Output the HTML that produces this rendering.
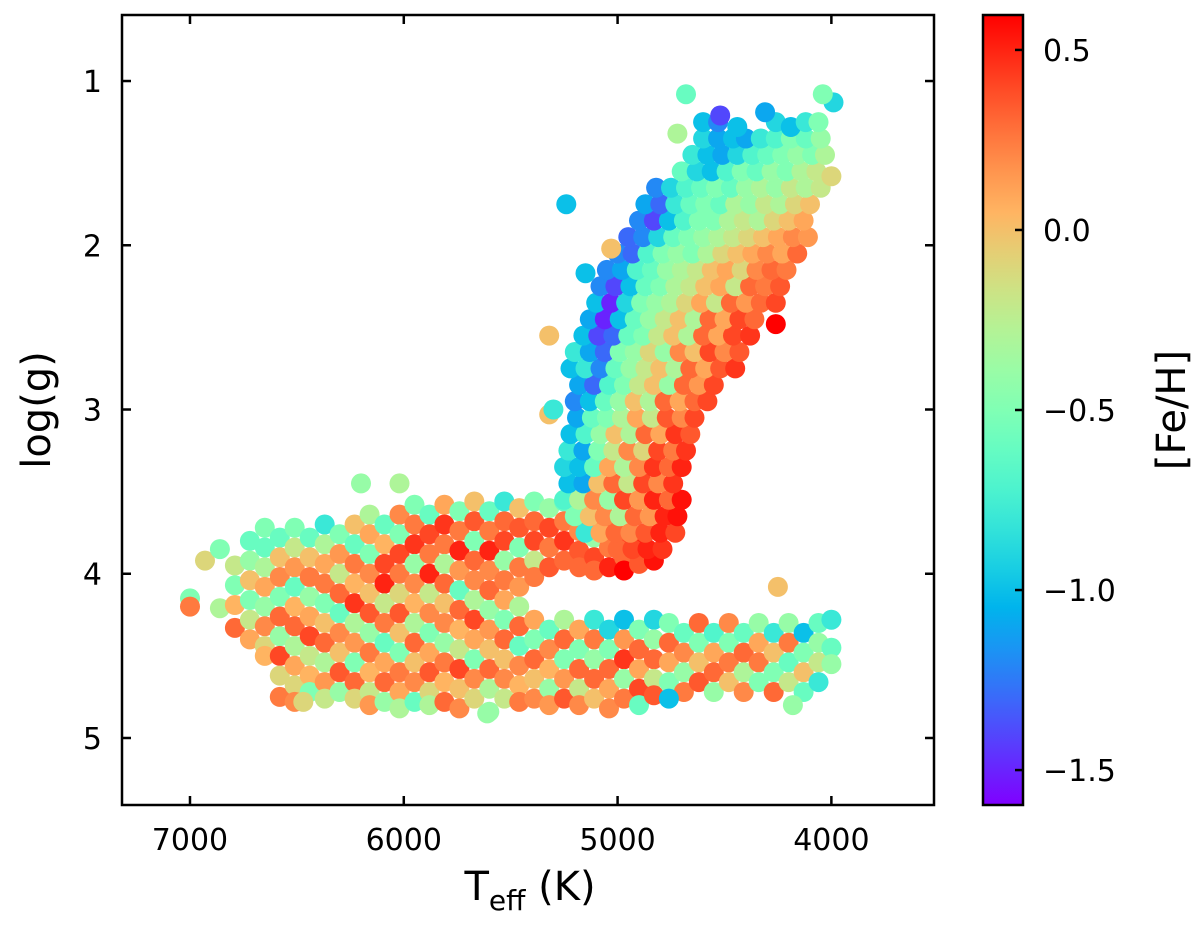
<!DOCTYPE html>
<html><head><meta charset="utf-8">
<style>
html,body{margin:0;padding:0;background:#fff;}
svg{display:block;font-family:"DejaVu Sans","Liberation Sans",sans-serif;}
</style></head>
<body>
<svg id="chart" width="1200" height="930" viewBox="0 0 1200 930" xmlns="http://www.w3.org/2000/svg">
<defs><linearGradient id="cbgrad" x1="0" y1="1" x2="0" y2="0"></linearGradient>
<clipPath id="plotclip"><rect x="122" y="15" width="812" height="790"/></clipPath></defs>
<g id="points" clip-path="url(#plotclip)"></g>
<g id="axes"></g>
</svg>
<script>
const xTicks = [7000, 6000, 5000, 4000];
const yTicks = [1, 2, 3, 4, 5];
const cbTicks = [0.5, 0.0, -0.5, -1.0, -1.5];
const cbTickLabels = ["0.5", "0.0", "\u22120.5", "\u22121.0", "\u22121.5"];
// dwarf / subgiant rows: [Teff, [logg...], [Fe/H...]]
const msRows = [
[7000,[4.15,4.2],[-0.5,0.25]],
[6930,[3.92],[-0.1]],
[6860,[3.85,4.21],[-0.5,-0.3]],
[6790,[3.95,4.07,4.19,4.33],[-0.2,-0.5,0.05,0.3]],
[6720,[3.8,3.92,4.04,4.16,4.28,4.4],[-0.6,-0.4,0.0,-0.5,-0.2,0.1]],
[6650,[3.72,3.84,3.96,4.08,4.2,4.32,4.44,4.5],[-0.5,-0.6,-0.3,0.1,-0.4,0.2,-0.1,0.05]],
[6580,[3.78,3.9,4.02,4.14,4.26,4.38,4.5,4.62,4.75],[-0.6,0.0,0.2,-0.5,0.3,-0.4,0.4,-0.1,0.25]],
[6510,[3.72,3.84,3.96,4.08,4.2,4.32,4.44,4.56,4.68,4.78],[-0.5,-0.2,0.15,-0.6,0.05,0.3,-0.3,0.1,-0.1,0.2]],
[6440,[3.78,3.9,4.02,4.14,4.26,4.38,4.5,4.62,4.72],[-0.6,0.0,0.25,-0.4,0.1,0.4,-0.2,0.05,-0.5]],
[6370,[3.7,3.82,3.94,4.06,4.18,4.3,4.42,4.54,4.66,4.76],[-0.8,-0.3,0.1,0.25,-0.5,0.0,0.3,-0.3,0.15,-0.2]],
[6300,[3.76,3.88,4.0,4.12,4.24,4.36,4.48,4.6,4.72],[-0.5,0.15,-0.2,0.3,-0.6,0.2,0.0,0.35,-0.4]],
[6230,[3.7,3.82,3.94,4.06,4.18,4.3,4.42,4.54,4.66,4.76],[0.0,-0.6,0.25,0.05,0.45,-0.3,0.15,-0.5,0.3,-0.1]],
[6160,[3.64,3.76,3.88,4.0,4.12,4.24,4.36,4.48,4.6,4.72,4.8],[-0.3,0.1,-0.5,0.2,0.0,0.35,-0.4,0.25,0.05,-0.2,0.15]],
[6090,[3.7,3.82,3.94,4.06,4.18,4.3,4.42,4.54,4.66,4.78],[-0.6,0.05,0.4,0.5,-0.2,0.25,-0.6,0.1,0.3,-0.4]],
[6020,[3.64,3.76,3.88,4.0,4.12,4.24,4.36,4.48,4.6,4.72,4.82],[0.2,-0.5,0.4,0.25,-0.1,0.35,0.0,-0.5,0.25,0.1,-0.3]],
[5950,[3.58,3.7,3.82,3.94,4.06,4.18,4.3,4.42,4.54,4.66,4.78],[-0.5,0.25,0.45,-0.4,0.2,0.05,-0.3,0.3,0.0,0.2,-0.6]],
[5880,[3.64,3.76,3.88,4.0,4.12,4.24,4.36,4.48,4.6,4.72,4.8],[-0.6,0.4,0.25,0.5,-0.2,0.2,-0.5,0.1,0.35,-0.1,-0.3]],
[5810,[3.58,3.7,3.82,3.94,4.06,4.18,4.3,4.42,4.54,4.66,4.78],[0.1,0.45,0.25,-0.3,0.3,0.0,0.2,-0.4,0.25,0.05,0.3]],
[5740,[3.62,3.74,3.86,3.98,4.1,4.22,4.34,4.46,4.58,4.7,4.82],[-0.5,0.25,0.5,0.15,-0.6,0.3,0.05,-0.2,0.4,0.0,0.2]],
[5670,[3.56,3.68,3.8,3.92,4.04,4.16,4.28,4.4,4.52,4.64,4.76],[0.0,0.35,-0.5,0.3,0.2,-0.3,0.4,0.1,-0.5,0.2,-0.1]],
[5600,[3.62,3.74,3.86,3.98,4.1,4.22,4.34,4.46,4.58,4.7,4.84],[-0.6,0.25,0.5,0.2,0.3,-0.4,0.15,0.0,0.3,-0.3,-0.4]],
[5530,[3.56,3.68,3.8,3.92,4.04,4.16,4.28,4.4,4.52,4.64,4.76],[-0.8,0.3,0.4,-0.4,0.25,0.1,-0.5,0.3,0.0,0.2,-0.2]],
[5460,[3.6,3.72,3.84,3.96,4.08,4.2,4.32,4.44,4.56,4.68,4.78],[0.0,0.35,-0.5,0.25,0.15,-0.3,0.3,-0.6,0.2,0.05,0.25]],
[5390,[3.56,3.68,3.8,3.92,4.02,4.28,4.4,4.52,4.64,4.76],[-0.5,0.3,0.4,-0.2,0.25,0.1,-0.5,0.3,0.0,0.2]],
[5320,[3.6,3.72,3.84,3.96,4.34,4.46,4.58,4.7,4.8],[-0.4,0.4,0.25,0.35,-0.6,0.2,0.05,-0.4,0.15]],
[5250,[3.56,3.68,3.8,3.92,4.28,4.4,4.52,4.64,4.76],[-0.6,0.25,0.45,0.3,-0.3,0.3,-0.5,0.15,0.35]],
[5180,[3.62,3.74,3.86,3.96,4.34,4.46,4.58,4.7,4.8],[-0.7,0.2,0.35,0.3,0.1,-0.5,0.3,-0.2,0.2]],
[5110,[3.66,3.78,3.9,3.98,4.28,4.4,4.52,4.64,4.76],[0.3,-0.4,0.4,0.3,-0.8,0.25,-0.4,0.3,0.0]],
[5040,[3.72,3.84,3.96,4.34,4.46,4.58,4.7,4.82],[0.35,0.25,0.5,-0.9,-0.5,0.3,0.1,0.2]],
[4970,[3.78,3.9,3.98,4.28,4.4,4.52,4.64,4.76],[0.4,0.3,0.6,-1.0,0.15,0.45,-0.4,0.25]],
[4900,[3.84,3.94,4.34,4.46,4.58,4.7,4.8],[0.5,0.35,-0.5,0.3,0.1,0.4,-0.6]],
[4830,[3.92,4.28,4.4,4.52,4.64,4.74],[0.55,-0.9,-0.4,0.3,-0.2,0.35]],
[4760,[4.3,4.42,4.54,4.66],[-0.5,0.3,0.1,-0.5]],
[4690,[4.36,4.48,4.6,4.72],[-0.6,0.2,-0.4,0.25]],
[4620,[4.3,4.42,4.54,4.66],[0.3,-0.5,0.0,0.35]],
[4550,[4.36,4.48,4.6,4.72],[-0.7,0.1,0.3,-0.4]],
[4480,[4.3,4.42,4.54,4.66],[0.2,-0.5,0.25,0.0]],
[4410,[4.36,4.48,4.6,4.72],[-0.6,0.3,-0.3,0.2]],
[4340,[4.3,4.42,4.54,4.66],[-0.4,0.1,0.25,-0.5]],
[4270,[4.36,4.48,4.6,4.72],[-0.8,0.0,-0.5,0.3]],
[4200,[4.3,4.42,4.54,4.66],[-0.4,0.25,-0.6,-0.2]],
[4130,[4.36,4.48,4.6,4.72],[-1.0,-0.5,0.0,-0.6]],
[4060,[4.3,4.42,4.54,4.66],[-0.6,-0.4,-0.2,-0.8]],
[4000,[4.28,4.45,4.55],[-0.8,-0.6,-0.4]]
];
const msExtras = [[6200,3.45,-0.4],[6020,3.45,-0.3],[5320,3.03,0.0],[4250,4.08,0.0],[4180,4.8,-0.4],[4760,4.76,-1.0],[6470,4.78,-0.1],[5610,4.85,-0.4]];
// giant branch [Teff, logg, [Fe/H]]
const rgbStars = [
[5000,3.85,0.3],[4930,3.85,0.4],[4860,3.85,0.5],[4790,3.85,0.45],
[5150,3.75,-0.8],[5080,3.75,0.1],[5010,3.75,0.3],[4940,3.75,0.2],[4870,3.75,0.35],[4800,3.75,0.5],[4730,3.75,0.4],
[5200,3.65,-0.5],[5130,3.65,0.0],[5060,3.65,0.2],[4990,3.65,-0.3],[4920,3.65,0.3],[4850,3.65,0.15],[4780,3.65,0.5],[4720,3.65,0.55],
[5250,3.55,-0.7],[5180,3.55,-0.3],[5110,3.55,0.2],[5040,3.55,-0.4],[4970,3.55,0.4],[4900,3.55,0.15],[4830,3.55,0.5],[4760,3.55,0.3],[4700,3.55,0.55],
[5230,3.45,-1.0],[5160,3.45,-1.1],[5090,3.45,0.0],[5020,3.45,0.3],[4950,3.45,-0.2],[4880,3.45,0.4],[4810,3.45,0.2],[4740,3.45,0.45],
[5250,3.35,-0.9],[5180,3.35,-1.0],[5110,3.35,-0.6],[5040,3.35,0.1],[4970,3.35,-0.3],[4900,3.35,0.2],[4830,3.35,0.45],[4760,3.35,0.3],[4700,3.35,0.5],
[5230,3.25,-0.8],[5160,3.25,-1.1],[5090,3.25,-0.5],[5020,3.25,-0.2],[4950,3.25,0.2],[4880,3.25,-0.1],[4810,3.25,0.4],[4740,3.25,0.25],[4680,3.25,0.45],
[5220,3.15,-1.0],[5150,3.15,-0.7],[5080,3.15,-0.4],[5010,3.15,0.0],[4940,3.15,-0.3],[4870,3.15,0.3],[4800,3.15,0.1],[4730,3.15,0.45],[4660,3.15,0.35],
[5300,3.0,-0.8],[5190,3.05,-1.1],[5120,3.05,-0.6],[5050,3.05,-0.5],[4980,3.05,-0.3],[4910,3.05,0.1],[4840,3.05,-0.2],[4770,3.05,0.35],[4700,3.05,0.2],[4640,3.05,0.4],
[5200,2.95,-1.2],[5130,2.95,-1.0],[5060,2.95,-0.6],[4990,2.95,-0.4],[4920,2.95,0.0],[4850,2.95,-0.3],[4780,2.95,0.3],[4710,2.95,0.1],[4640,2.95,0.3],[4580,2.95,0.4],
[5180,2.85,-1.1],[5110,2.85,-1.3],[5040,2.85,-0.7],[4970,2.85,-0.5],[4900,2.85,-0.2],[4830,2.85,0.0],[4760,2.85,-0.4],[4690,2.85,0.3],[4620,2.85,0.15],[4550,2.85,0.4],
[5220,2.75,-1.0],[5150,2.75,-0.8],[5080,2.75,-1.2],[5010,2.75,-0.6],[4940,2.75,-0.4],[4870,2.75,-0.2],[4800,2.75,0.0],[4730,2.75,-0.3],[4660,2.75,0.3],[4590,2.75,0.1],[4520,2.75,0.35],[4450,2.75,0.45],
[5200,2.65,-0.8],[5130,2.65,-1.1],[5060,2.65,-1.3],[4990,2.65,-0.5],[4920,2.65,-0.4],[4850,2.65,-0.1],[4780,2.65,-0.4],[4710,2.65,0.2],[4640,2.65,0.0],[4570,2.65,0.4],[4500,2.65,0.2],[4430,2.65,0.35],
[5320,2.55,0.0],[5160,2.55,-1.0],[5090,2.55,-1.4],[5020,2.55,-1.3],[4950,2.55,-0.6],[4880,2.55,-0.5],[4810,2.55,-0.2],[4740,2.55,0.0],[4670,2.55,-0.3],[4600,2.55,0.3],[4530,2.55,0.1],[4460,2.55,0.4],[4380,2.55,0.45],[4260,2.48,0.6],
[5130,2.45,-1.1],[5060,2.45,-1.5],[4990,2.45,-1.0],[4920,2.45,-0.6],[4850,2.45,-0.4],[4780,2.45,-0.2],[4710,2.45,0.0],[4640,2.45,-0.3],[4570,2.45,0.3],[4500,2.45,0.1],[4430,2.45,0.4],[4360,2.45,0.3],
[5100,2.35,-1.0],[5030,2.35,-1.5],[4960,2.35,-0.9],[4890,2.35,-0.5],[4820,2.35,-0.4],[4750,2.35,-0.3],[4680,2.35,-0.1],[4610,2.35,0.1],[4540,2.35,-0.2],[4470,2.35,0.3],[4400,2.35,0.15],[4330,2.35,0.3],[4260,2.35,0.4],
[5080,2.25,-1.2],[5010,2.25,-1.4],[4940,2.25,-1.0],[4870,2.25,-0.6],[4800,2.25,-0.5],[4730,2.25,-0.3],[4660,2.25,-0.2],[4590,2.25,0.0],[4520,2.25,0.1],[4450,2.25,-0.2],[4380,2.25,0.3],[4310,2.25,0.25],[4240,2.25,0.35],
[5150,2.17,-1.0],[5050,2.15,-1.2],[4980,2.15,-1.1],[4910,2.15,-0.7],[4840,2.15,-0.6],[4770,2.15,-0.4],[4700,2.15,-0.3],[4630,2.15,-0.2],[4560,2.15,0.0],[4490,2.15,0.1],[4420,2.15,-0.1],[4350,2.15,0.2],[4280,2.15,0.3],[4210,2.15,0.25],
[5000,2.05,-1.2],[4930,2.05,-1.3],[4860,2.05,-0.7],[4790,2.05,-0.5],[4720,2.05,-0.4],[4650,2.05,-0.5],[4580,2.05,-0.3],[4510,2.05,-0.1],[4440,2.05,0.0],[4370,2.05,0.1],[4300,2.05,0.2],[4230,2.05,0.1],[4160,2.05,0.3],[5030,2.02,0.0],
[4950,1.95,-1.3],[4880,1.95,-1.2],[4810,1.95,-0.9],[4740,1.95,-0.6],[4670,1.95,-0.5],[4600,1.95,-0.4],[4530,1.95,-0.3],[4460,1.95,-0.2],[4390,1.95,-0.1],[4320,1.95,0.0],[4250,1.95,0.1],[4180,1.95,0.2],[4110,1.95,0.15],
[4900,1.85,-1.2],[4830,1.85,-1.4],[4760,1.85,-1.0],[4690,1.85,-0.7],[4620,1.85,-0.5],[4550,1.85,-0.5],[4480,1.85,-0.3],[4410,1.85,-0.2],[4340,1.85,-0.3],[4270,1.85,-0.1],[4200,1.85,0.0],[4130,1.85,0.1],
[4870,1.75,-1.1],[4800,1.75,-1.3],[4730,1.75,-0.8],[4660,1.75,-0.6],[4590,1.75,-0.5],[4520,1.75,-0.6],[4450,1.75,-0.3],[4380,1.75,-0.4],[4310,1.75,-0.2],[4240,1.75,-0.3],[4170,1.75,-0.1],[4100,1.75,0.0],[5240,1.75,-1.0],
[4820,1.65,-1.2],[4750,1.65,-0.9],[4680,1.65,-0.7],[4610,1.65,-0.6],[4540,1.65,-0.5],[4470,1.65,-0.6],[4400,1.65,-0.4],[4330,1.65,-0.3],[4260,1.65,-0.4],[4190,1.65,-0.2],[4120,1.65,-0.3],[4050,1.65,-0.2],
[4700,1.55,-0.6],[4630,1.55,-0.9],[4560,1.55,-1.0],[4490,1.55,-0.7],[4420,1.55,-0.5],[4350,1.55,-0.6],[4280,1.55,-0.4],[4210,1.55,-0.5],[4140,1.55,-0.3],[4070,1.55,-0.2],[4000,1.58,-0.1],
[4650,1.45,-0.8],[4580,1.45,-1.0],[4510,1.45,-1.1],[4440,1.45,-0.9],[4370,1.45,-0.7],[4300,1.45,-0.6],[4230,1.45,-0.5],[4160,1.45,-0.4],[4090,1.45,-0.5],[4030,1.45,-0.3],
[4720,1.32,-0.3],[4600,1.35,-0.9],[4530,1.35,-1.1],[4460,1.35,-1.0],[4400,1.35,-1.1],[4330,1.35,-0.8],[4260,1.35,-0.7],[4190,1.35,-0.5],[4120,1.35,-0.6],[4050,1.35,-0.4],
[4600,1.25,-1.0],[4530,1.25,-1.2],[4440,1.28,-1.0],[4260,1.25,-0.9],[4190,1.28,-1.0],[4120,1.25,-0.8],[4060,1.25,-0.5],
[4520,1.21,-1.4],[4310,1.19,-1.1],[3990,1.13,-0.9],
[4680,1.08,-0.6],[4040,1.08,-0.5]
];
const X0=122,X1=934,Y0=15,Y1=805;
const TMAX=7318,TMIN=3520,GMIN=0.598,GMAX=5.408;
const FMIN=-1.597,FMAX=0.597;
function xs(t){return X0+(TMAX-t)/(TMAX-TMIN)*(X1-X0);}
function ys(g){return Y0+(g-GMIN)/(GMAX-GMIN)*(Y1-Y0);}
function cs(f){return Y1-(f-FMIN)/(FMAX-FMIN)*(Y1-Y0);}
function rainbow(x){x=Math.max(0,Math.min(1,x));
 const r=Math.min(1,Math.abs(2*x-0.5)),g=Math.sin(Math.PI*x),b=Math.cos(Math.PI*x/2);
 return `rgb(${Math.round(r*255)},${Math.round(g*255)},${Math.round(b*255)})`;}
function col(f){return rainbow((f-FMIN)/(FMAX-FMIN));}
const NS='http://www.w3.org/2000/svg';
function mk(tag,attrs,parent){const e=document.createElementNS(NS,tag);for(const k in attrs)e.setAttribute(k,attrs[k]);parent.appendChild(e);return e;}
const pts=document.getElementById('points');
function star(t,g,f,name){
 const c=mk('circle',{cx:xs(t).toFixed(1),cy:ys(g).toFixed(1),r:10,fill:col(f)},pts);
 
 
}
msRows.forEach(row=>{row[1].forEach((g,i)=>{star(row[0],g,row[2][i]!==undefined?row[2][i]:0,'dwarf-star-point');});});
msExtras.forEach(p=>star(p[0],p[1],p[2],'dwarf-star-point'));
rgbStars.forEach(p=>star(p[0],p[1],p[2],'giant-star-point'));
const ax=document.getElementById('axes');
const frame=mk('rect',{x:X0,y:Y0,width:X1-X0,height:Y1-Y0,fill:'none',stroke:'#000','stroke-width':2.5},ax);


xTicks.forEach(t=>{const x=xs(t);
 mk('line',{x1:x,y1:Y1,x2:x,y2:Y1-9,stroke:'#000','stroke-width':2.5},ax);
 mk('line',{x1:x,y1:Y0,x2:x,y2:Y0+9,stroke:'#000','stroke-width':2.5},ax);
 const tx=mk('text',{x:x,y:Y1+45,'text-anchor':'middle','font-size':30},ax);tx.textContent=t;
 
 
});
yTicks.forEach(g=>{const y=ys(g);
 mk('line',{x1:X0,y1:y,x2:X0+9,y2:y,stroke:'#000','stroke-width':2.5},ax);
 mk('line',{x1:X1,y1:y,x2:X1-9,y2:y,stroke:'#000','stroke-width':2.5},ax);
 const tx=mk('text',{x:X0-20,y:y+11,'text-anchor':'end','font-size':30},ax);tx.textContent=g;
 
 
});
const xl=mk('text',{x:530,y:900,'text-anchor':'middle','font-size':40},ax);
xl.innerHTML='T<tspan font-size="28" dy="10">eff</tspan><tspan dy="-10"> (K)</tspan>';


const yl=mk('text',{x:0,y:0,'text-anchor':'middle','font-size':40,transform:'translate(50,410) rotate(-90)'},ax);
yl.textContent='log(g)';


const grad=document.getElementById('cbgrad');
for(let i=0;i<=20;i++){mk('stop',{offset:(i/20),'stop-color':rainbow(i/20)},grad);}
const CB0=983,CB1=1023;
const cb=mk('rect',{x:CB0,y:Y0,width:CB1-CB0,height:Y1-Y0,fill:'url(#cbgrad)',stroke:'#000','stroke-width':2.5},ax);


cbTicks.forEach((f,i)=>{const y=cs(f);
 mk('line',{x1:CB1,y1:y,x2:CB1-8,y2:y,stroke:'#000','stroke-width':2.5},ax);
 const tx=mk('text',{x:1043,y:y+11,'font-size':30},ax);tx.textContent=cbTickLabels[i];
 
 
});
const cl=mk('text',{x:0,y:0,'text-anchor':'middle','font-size':40,transform:'translate(1185,410) rotate(-90)'},ax);
cl.textContent='[Fe/H]';


</script>
</body></html>
